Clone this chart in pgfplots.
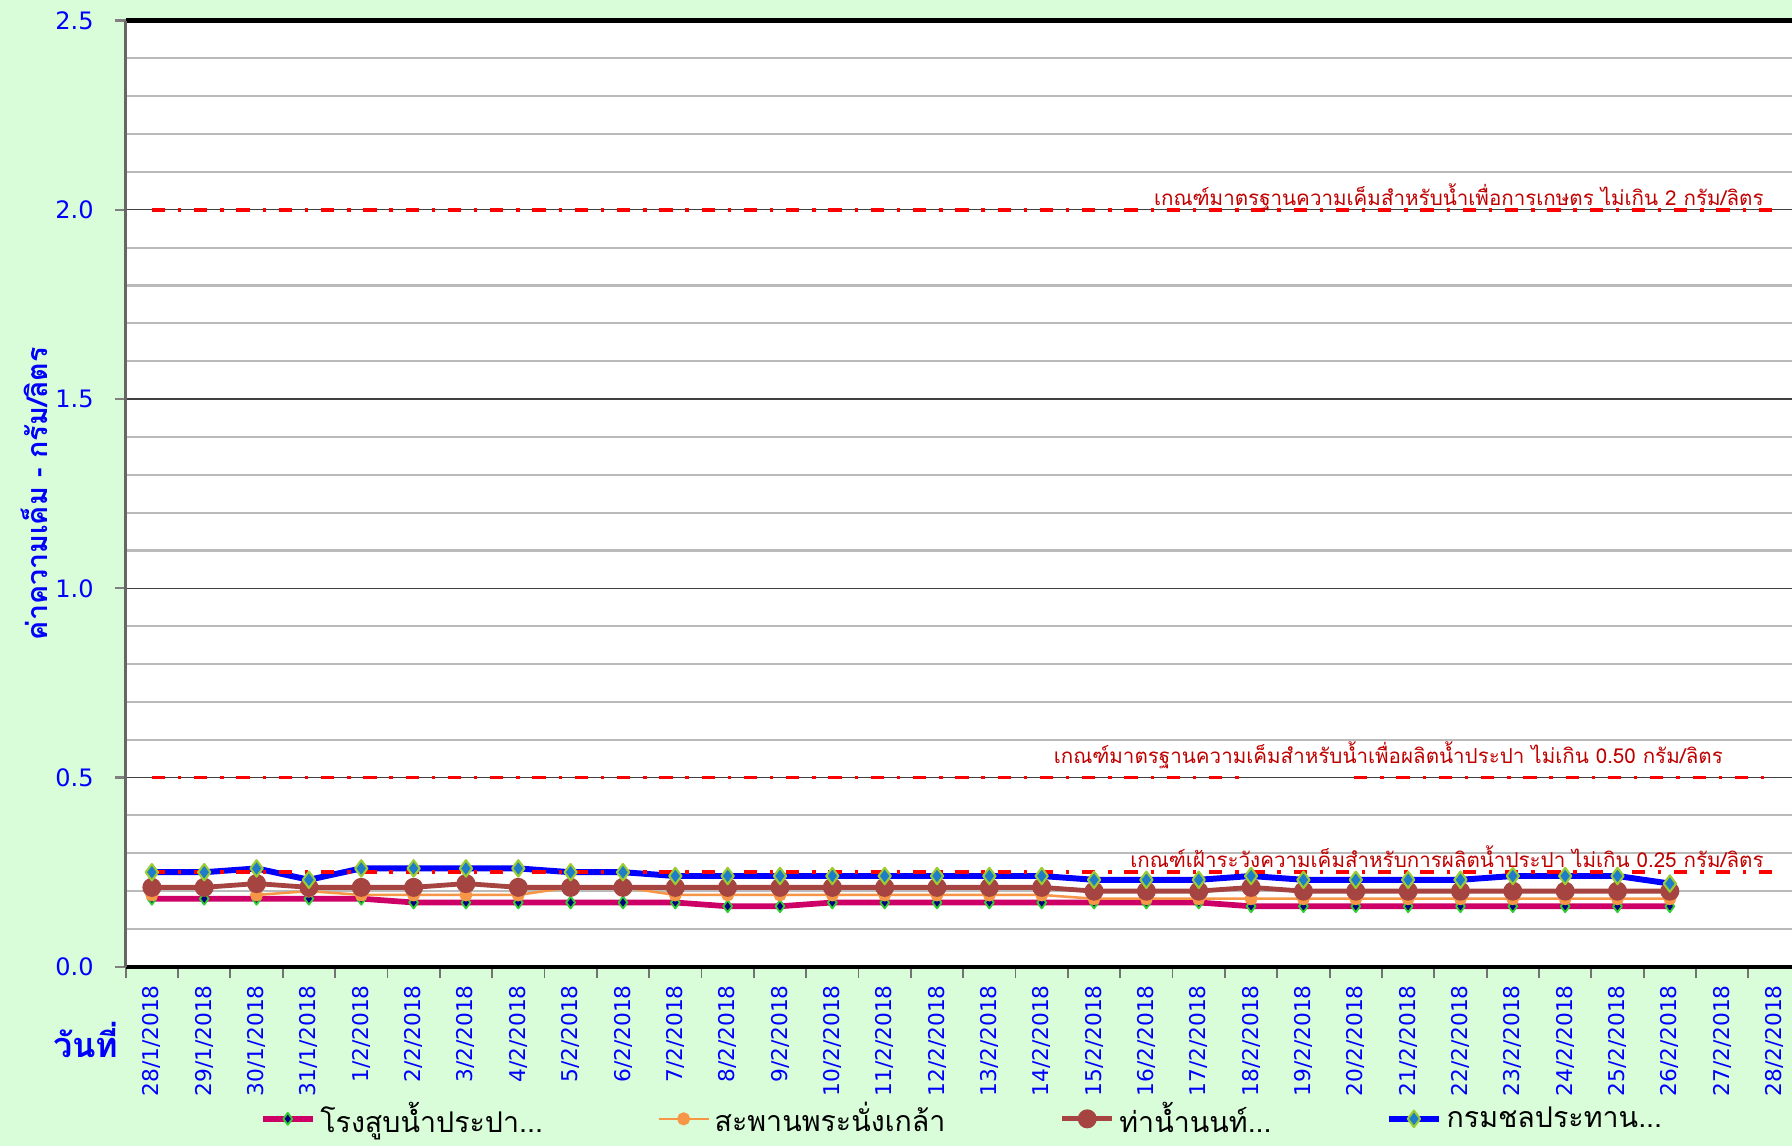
\documentclass[border=0pt]{standalone}
\usepackage{fontspec}
\setmainfont{DejaVu Sans}
\newfontfamily\thai[Script=Thai]{Loma}
\usepackage{pgfplots}
\usepackage{pgfplotstable}
\pgfplotsset{compat=1.18}
\usetikzlibrary{backgrounds}

\definecolor{bggreen}{HTML}{D9FDD9}
\definecolor{lblred}{HTML}{C00000}
\definecolor{cmag}{HTML}{CC0066}
\definecolor{cora}{HTML}{F79646}
\definecolor{cbro}{HTML}{A54440}
\definecolor{cblu}{HTML}{0000FF}
\definecolor{dblue}{HTML}{1E7CC8}
\definecolor{ygreen}{HTML}{9ACD32}
\definecolor{mgreen}{HTML}{33CC33}
\definecolor{navy}{HTML}{000080}

\pgfplotstableread{
x mag ora bro blu
0 0.18 0.19 0.21 0.25
1 0.18 nan 0.21 0.25
2 0.18 0.19 0.22 0.26
3 0.18 0.20 0.21 0.23
4 0.18 0.19 0.21 0.26
5 0.17 0.19 0.21 0.26
6 0.17 0.19 0.22 0.26
7 0.17 0.19 0.21 0.26
8 0.17 0.21 0.21 0.25
9 0.17 0.21 0.21 0.25
10 0.17 0.19 0.21 0.24
11 0.16 0.19 0.21 0.24
12 0.16 0.19 0.21 0.24
13 0.17 0.19 0.21 0.24
14 0.17 0.19 0.21 0.24
15 0.17 0.19 0.21 0.24
16 0.17 0.19 0.21 0.24
17 0.17 0.19 0.21 0.24
18 0.17 0.18 0.20 0.23
19 0.17 0.18 0.20 0.23
20 0.17 0.18 0.20 0.23
21 0.16 0.18 0.21 0.24
22 0.16 0.18 0.20 0.23
23 0.16 0.18 0.20 0.23
24 0.16 0.18 0.20 0.23
25 0.16 0.18 0.20 0.23
26 0.16 0.18 0.20 0.24
27 0.16 0.18 0.20 0.24
28 0.16 0.18 0.20 0.24
29 0.16 0.18 0.20 0.22
}\saltdata

\tikzset{redref/.style={red, line width=1.6pt, dash pattern=on 5.8pt off 5.6pt on 1.5pt off 5.6pt}}

\begin{document}
\begin{tikzpicture}
\begin{axis}[
  scale only axis,
  width=732.8pt, height=414pt,
  xmin=-0.5, xmax=31.5,
  ymin=0, ymax=2.5,
  clip=false,
  unbounded coords=jump,
  axis background/.style={fill=white},
  separate axis lines,
  x axis line style={black, line width=1.8pt},
  y axis line style={black!60, line width=1.5pt},
  xtick pos=left, ytick pos=left,
  xtick={0,...,31},
  xticklabels={28/1/2018,29/1/2018,30/1/2018,31/1/2018,1/2/2018,2/2/2018,3/2/2018,4/2/2018,5/2/2018,6/2/2018,7/2/2018,8/2/2018,9/2/2018,10/2/2018,11/2/2018,12/2/2018,13/2/2018,14/2/2018,15/2/2018,16/2/2018,17/2/2018,18/2/2018,19/2/2018,20/2/2018,21/2/2018,22/2/2018,23/2/2018,24/2/2018,25/2/2018,26/2/2018,27/2/2018,28/2/2018},
  xticklabel style={rotate=90, anchor=east, font=\fontsize{9.5}{11}\selectfont, text=blue},
  major x tick style={draw=none},
  minor xtick={-0.5,0.5,...,30.5},
  minor x tick style={black!55, line width=0.8pt},
  ytick={0,0.5,1,1.5,2,2.5},
  minor y tick num=4,
  minor y tick style={draw=none},
  major y tick style={black!50, line width=1pt},
  tick align=outside,
  major tick length=4.5pt, minor tick length=5pt,
  ymajorgrids, yminorgrids,
  major grid style={black!75, line width=0.6pt},
  minor grid style={black!27, line width=0.9pt},
  yticklabel style={font=\fontsize{10.5}{12}\selectfont, text=blue, xshift=-6pt,
    /pgf/number format/fixed, /pgf/number format/fixed zerofill,
    /pgf/number format/precision=1, /pgf/number format/assume math mode=true},
  legend columns=4,
  legend style={at={(0.5,0)}, anchor=center, yshift=-66.5pt, draw=none, fill=none,
    font=\thai\fontsize{12.5}{14}\selectfont, text=black,
    /tikz/every even column/.append style={column sep=48pt}},
  legend image code/.code={\draw[mark repeat=2,mark phase=2] plot coordinates {(0pt,0pt) (11pt,0pt) (22pt,0pt)};},
]
\addplot[cmag, line width=2.5pt, line join=round, mark=diamond*, mark size=2.6pt,
  mark options={fill=navy, draw=mgreen, line width=0.8pt}] table[x=x, y=mag] {\saltdata};
\addlegendentry{โรงสูบน้ำประปา...}
\addplot[cora, line width=1.1pt, line join=round, mark=*, mark size=2.3pt,
  mark options={fill=cora, draw=cora}] table[x=x, y=ora] {\saltdata};
\addlegendentry{สะพานพระนั่งเกล้า}
\addplot[cbro, line width=2.1pt, line join=round, mark=*, mark size=3.1pt,
  mark options={fill=cbro, draw=cbro}] table[x=x, y=bro] {\saltdata};
\addlegendentry{ท่าน้ำนนท์...}
\addplot[cblu, line width=2.6pt, line join=round, mark=diamond*, mark size=3.6pt,
  mark options={fill=dblue, draw=ygreen, line width=0.9pt}] table[x=x, y=blu] {\saltdata};
\addlegendentry{กรมชลประทาน...}

\addplot[redref, forget plot] coordinates {(0,2) (31,2)};
\addplot[redref, forget plot] coordinates {(0,0.5) (20.76,0.5)};
\addplot[redref, forget plot] coordinates {(22.97,0.5) (31,0.5)};
\addplot[redref, forget plot] coordinates {(0,0.25) (31,0.25)};

\node[anchor=base east, text=lblred, font=\thai\fontsize{9}{11}\selectfont, inner sep=0pt]
  at ([yshift=2pt]axis cs:30.8,2) {เกณฑ์มาตรฐานความเค็มสำหรับน้ำเพื่อการเกษตร ไม่เกิน 2 กรัม/ลิตร};
\node[anchor=base east, text=lblred, font=\thai\fontsize{9}{11}\selectfont, inner sep=0pt]
  at ([yshift=6pt]axis cs:30.02,0.5) {เกณฑ์มาตรฐานความเค็มสำหรับน้ำเพื่อผลิตน้ำประปา ไม่เกิน 0.50 กรัม/ลิตร};
\node[anchor=base east, text=lblred, font=\thai\fontsize{9}{11}\selectfont, inner sep=0pt]
  at ([yshift=2pt]axis cs:30.8,0.25) {เกณฑ์เฝ้าระวังความเค็มสำหรับการผลิตน้ำประปา ไม่เกิน 0.25 กรัม/ลิตร};

\node[rotate=90, text=blue, font=\thai\bfseries\fontsize{12.5}{14}\selectfont]
  at ([xshift=-40pt]rel axis cs:0,0.5) {ค่าความเค็ม - กรัม/ลิตร};
\node[text=blue, font=\thai\bfseries\fontsize{15}{17}\selectfont]
  at ([xshift=-17.5pt,yshift=-32pt]rel axis cs:0,0) {วันที่};
\end{axis}
\begin{scope}[on background layer]
\fill[bggreen] ([xshift=-55pt,yshift=-78.5pt]current axis.south west) rectangle ([xshift=729pt,yshift=9pt]current axis.north west);
\end{scope}
\pgfresetboundingbox
\useasboundingbox ([xshift=-55pt,yshift=-78.5pt]current axis.south west) rectangle ([xshift=729pt,yshift=9pt]current axis.north west);
\end{tikzpicture}
\end{document}
